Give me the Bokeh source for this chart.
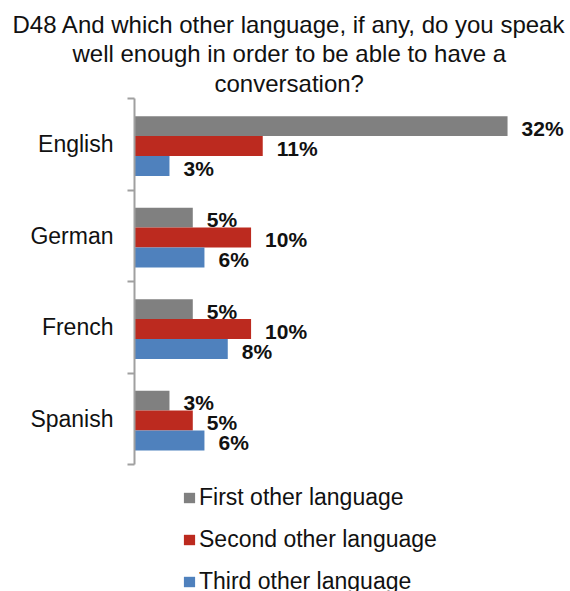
from bokeh.plotting import figure
from bokeh.models import (Range1d, LinearAxis, FixedTicker, Title, Legend, LegendItem,
                          ColumnDataSource)
from bokeh.core.properties import value
from bokeh.embed import file_html
from bokeh.resources import INLINE

# ---- data ----
categories = ["English", "German", "French", "Spanish"]
first_other = [32, 5, 5, 3]
second_other = [11, 10, 10, 5]
third_other = [3, 6, 8, 6]
series_names = ["First other language", "Second other language", "Third other language"]
title_lines = ["D48 And which other language, if any, do you speak",
               "well enough in order to be able to have a",
               "conversation?"]

colors = ["#808080", "#BC2A1F", "#4F81BD"]
offsets = [0.198, -0.02, -0.238]
bar_h = 0.218
FONT = "Liberation Sans"
TXT = "#111111"

n = len(categories)
centers = [n - 1 - i + 0.5 for i in range(n)]

# layout in pixels
W, H = 570, 591
top, left = 98, 134
cat_px = 91.5                      # pixels per category band
axis_bottom = top + n * cat_px     # where the category axis ends
extra = (H - axis_bottom) / cat_px # room below the axis for the legend

p = figure(width=W, height=H, output_backend="svg", toolbar_location=None,
           x_range=Range1d(0, 37.4), y_range=Range1d(-extra, n),
           x_axis_location=None, y_axis_location=None,
           min_border_left=left, min_border_right=0, min_border_top=top,
           min_border_bottom=0)
p.outline_line_color = None
p.xgrid.visible = False
p.ygrid.visible = False
p.background_fill_color = "white"
p.border_fill_color = "white"

yaxis = LinearAxis(ticker=FixedTicker(ticks=centers, minor_ticks=[float(k) for k in range(n + 1)]),
                   bounds=(0, n))
yaxis.major_label_overrides = {c: cat for c, cat in zip(centers, categories)}
yaxis.major_tick_line_color = None
yaxis.major_tick_out = 0
yaxis.major_tick_in = 0
yaxis.minor_tick_out = 7
yaxis.minor_tick_in = 0
yaxis.minor_tick_line_color = "#a0a0a0"
yaxis.minor_tick_line_width = 2
yaxis.axis_line_color = "#a0a0a0"
yaxis.axis_line_width = 2
yaxis.major_label_standoff = 14
yaxis.major_label_text_font = FONT
yaxis.major_label_text_font_size = "23px"
yaxis.major_label_text_color = TXT
p.add_layout(yaxis, "left")

renderers = []
for vals, off, col in zip([first_other, second_other, third_other], offsets, colors):
    src = ColumnDataSource(dict(
        y=[c + off for c in centers],
        v=vals,
        lab=[f"{v}%" for v in vals],
    ))
    r = p.hbar(y="y", right="v", left=0, height=bar_h, source=src,
               fill_color=col, line_color=None)
    renderers.append(r)
    p.text(x="v", y="y", text="lab", source=src, x_offset=14, y_offset=2,
           text_font=value(FONT), text_baseline="middle", text_align="left",
           text_font_size="21px", text_font_style="bold", text_color=TXT)

# title lines: added innermost first (last line nearest the plot)
title_offsets = [-122, -62, 80]
title_standoffs = [0, 0, 3]
for line, off, so in reversed(list(zip(title_lines, title_offsets, title_standoffs))):
    p.add_layout(Title(text=line, align="left", offset=off, standoff=so,
                       text_font=FONT, text_font_size="24px", text_font_style="normal",
                       text_color=TXT), "above")

legend = Legend(items=[LegendItem(label=nm, renderers=[r]) for nm, r in zip(series_names, renderers)],
                location=(48, -4), orientation="vertical",
                glyph_width=14, glyph_height=13, label_standoff=3,
                padding=0, margin=0, spacing=15, label_height=27,
                border_line_color=None, background_fill_alpha=0,
                label_text_font=FONT, label_text_font_size="23px", label_text_color=TXT)
p.add_layout(legend, "center")

open("out.html", "w").write(file_html(p, INLINE))
